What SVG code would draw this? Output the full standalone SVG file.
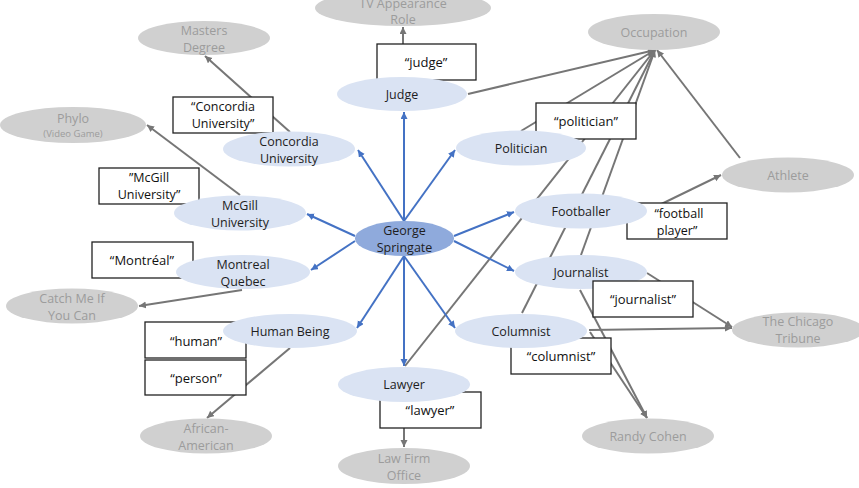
<svg xmlns="http://www.w3.org/2000/svg" width="859" height="488" viewBox="0 0 859 488">
<defs>
<marker id="ag" markerUnits="userSpaceOnUse" markerWidth="8" markerHeight="8" refX="7" refY="3.5" orient="auto"><path d="M0,0 L7,3.5 L0,7 z" fill="#767676"/></marker>
<marker id="ab" markerUnits="userSpaceOnUse" markerWidth="8" markerHeight="8" refX="7" refY="3.5" orient="auto"><path d="M0,0 L7,3.5 L0,7 z" fill="#4472c4"/></marker>
<style>
.g{stroke:#767676;stroke-width:2;fill:none;marker-end:url(#ag)}
.b{stroke:#4472c4;stroke-width:2;fill:none;marker-end:url(#ab)}
.bn ellipse{fill:#dae3f3}
.gr ellipse{fill:#d0d0d0}
.bn text{fill:#1e1e1e;font-family:"Open Sans",sans-serif;font-size:12.5px;text-anchor:middle}
.gr text{fill:#9c9c9c;font-family:"Open Sans",sans-serif;font-size:12.5px;text-anchor:middle}
.lb rect{fill:#fff;stroke:#222;stroke-width:1.3}
.lb text{fill:#111;font-family:"Open Sans",sans-serif;font-size:13px;text-anchor:middle}
.lb text.s{font-size:12.5px}
</style>
</defs>
<g id="connectors">
<line class="g" x1="403" y1="77" x2="403" y2="27"/>
<line class="g" x1="290" y1="132" x2="205" y2="56"/>
<line class="g" x1="240" y1="195" x2="147" y2="125"/>
<line class="g" x1="242" y1="290" x2="139" y2="306"/>
<line class="g" x1="290" y1="348" x2="207" y2="418"/>
<line class="g" x1="404" y1="402" x2="404" y2="447"/>
<line class="g" x1="647" y1="211" x2="721" y2="175"/>
<line class="g" x1="647" y1="273" x2="732" y2="327"/>
<line class="g" x1="589" y1="330" x2="732" y2="328"/>
<line class="g" x1="580" y1="290" x2="647" y2="418"/>
<line class="g" x1="590" y1="332" x2="647" y2="418"/>
<line class="g" x1="468" y1="94" x2="655" y2="50"/>
<line class="g" x1="521" y1="131" x2="655" y2="50"/>
<line class="g" x1="405" y1="366" x2="654" y2="51"/>
<line class="g" x1="522" y1="313" x2="655" y2="50"/>
<line class="g" x1="581" y1="255" x2="655" y2="50"/>
<line class="g" x1="740" y1="158" x2="657" y2="50"/>
<line class="b" x1="404" y1="221" x2="404" y2="112"/>
<line class="b" x1="404" y1="221" x2="358" y2="150"/>
<line class="b" x1="404" y1="221" x2="455" y2="150"/>
<line class="b" x1="355" y1="236" x2="307" y2="214"/>
<line class="b" x1="355" y1="241" x2="311" y2="270"/>
<line class="b" x1="454" y1="236" x2="514" y2="212"/>
<line class="b" x1="454" y1="241" x2="514" y2="271"/>
<line class="b" x1="404" y1="256" x2="357" y2="328"/>
<line class="b" x1="404" y1="256" x2="404" y2="366"/>
<line class="b" x1="404" y1="256" x2="455" y2="328"/>
</g>
<g id="labels" class="lb">
<g id="lbl-judge"><rect x="377" y="44" width="99" height="36"/><text x="426" y="67">“judge”</text></g>
<g id="lbl-concordia"><rect x="173" y="97" width="100" height="36"/><text class="s" x="223" y="111">“Concordia</text><text class="s" x="223" y="128">University”</text></g>
<g id="lbl-politician"><rect x="536" y="103" width="100" height="36"/><text x="586" y="126">“politician”</text></g>
<g id="lbl-mcgill"><rect x="99" y="168" width="100" height="36"/><text class="s" x="149" y="182">”McGill</text><text class="s" x="149" y="199">University”</text></g>
<g id="lbl-montreal"><rect x="92" y="242" width="101" height="36"/><text x="142" y="265">“Montréal”</text></g>
<g id="lbl-human"><rect x="145" y="322" width="101" height="36"/><text x="196" y="346">“human”</text></g>
<g id="lbl-person"><rect x="145" y="360" width="101" height="35"/><text x="196" y="383">“person”</text></g>
<g id="lbl-lawyer"><rect x="380" y="392" width="101" height="36"/><text x="430" y="415">“lawyer”</text></g>
<g id="lbl-football"><rect x="627" y="203" width="100" height="36"/><text class="s" x="679" y="218">“football</text><text class="s" x="677" y="235">player”</text></g>
<g id="lbl-columnist"><rect x="511" y="338" width="100" height="36"/><text x="561" y="361">“columnist”</text></g>
</g>
<g id="nodes">
<g id="n-tv" class="gr"><ellipse cx="403" cy="8" rx="88" ry="18"/><text x="403" y="8">TV Appearance</text><text x="403" y="24">Role</text></g>
<g id="n-masters" class="gr"><ellipse cx="204" cy="38" rx="66" ry="17"/><text x="204" y="34.5">Masters</text><text x="204" y="51.5">Degree</text></g>
<g id="n-phylo" class="gr"><ellipse cx="73" cy="125" rx="73" ry="18"/><text x="73" y="123">Phylo</text><text x="73" y="137" style="font-size:9.5px">(Video Game)</text></g>
<g id="n-occupation" class="gr"><ellipse cx="654" cy="32" rx="66" ry="18"/><text x="654" y="36.5">Occupation</text></g>
<g id="n-athlete" class="gr"><ellipse cx="788" cy="175" rx="66" ry="17.5"/><text x="788" y="179.5">Athlete</text></g>
<g id="n-catch" class="gr"><ellipse cx="72" cy="306" rx="66" ry="17.5"/><text x="72" y="302.5">Catch Me If</text><text x="72" y="319.5">You Can</text></g>
<g id="n-tribune" class="gr"><ellipse cx="798" cy="330" rx="66" ry="17.5"/><text x="798" y="326">The Chicago</text><text x="798" y="343">Tribune</text></g>
<g id="n-african" class="gr"><ellipse cx="206" cy="436" rx="66" ry="17.5"/><text x="206" y="433">African-</text><text x="206" y="450">American</text></g>
<g id="n-randy" class="gr"><ellipse cx="648" cy="436" rx="66" ry="17.5"/><text x="648" y="440.5">Randy Cohen</text></g>
<g id="n-lawfirm" class="gr"><ellipse cx="404" cy="466" rx="66" ry="18"/><text x="404" y="463">Law Firm</text><text x="404" y="480">Office</text></g>
<g id="n-judge" class="bn"><ellipse cx="402" cy="94" rx="65" ry="17"/><text x="402" y="98.5">Judge</text></g>
<g id="n-concordia" class="bn"><ellipse cx="289" cy="149" rx="66" ry="17.5"/><text x="289" y="145.5">Concordia</text><text x="289" y="162.5">University</text></g>
<g id="n-politician" class="bn"><ellipse cx="521" cy="148" rx="65" ry="17.5"/><text x="521" y="152.5">Politician</text></g>
<g id="n-mcgill" class="bn"><ellipse cx="240" cy="213" rx="66" ry="17.5"/><text x="240" y="210">McGill</text><text x="240" y="227">University</text></g>
<g id="n-montreal" class="bn"><ellipse cx="243" cy="272" rx="67" ry="17"/><text x="243" y="269">Montreal</text><text x="243" y="286">Quebec</text></g>
<g id="n-footballer" class="bn"><ellipse cx="581" cy="211" rx="66" ry="17.5"/><text x="581" y="215.5">Footballer</text></g>
<g id="n-journalist" class="bn"><ellipse cx="581" cy="272" rx="66" ry="17"/><text x="581" y="276.5">Journalist</text></g>
<g id="n-human" class="bn"><ellipse cx="290" cy="331" rx="67" ry="17"/><text x="290" y="335.5">Human Being</text></g>
<g id="n-columnist" class="bn"><ellipse cx="521" cy="331" rx="66" ry="17"/><text x="521" y="335.5">Columnist</text></g>
<g id="n-lawyer" class="bn"><ellipse cx="404" cy="384.5" rx="66" ry="17.5"/><text x="404" y="389">Lawyer</text></g>
<g id="n-george" class="bn"><ellipse cx="404.5" cy="238.5" rx="49.5" ry="17.5" style="fill:#8faadc"/><text x="404.5" y="235">George</text><text x="404.5" y="252">Springate</text></g>
</g>
<g id="labels-top" class="lb">
<g id="lbl-journalist"><rect x="593" y="281" width="100" height="36"/><text x="643" y="304">“journalist”</text></g>
</g>
</svg>
